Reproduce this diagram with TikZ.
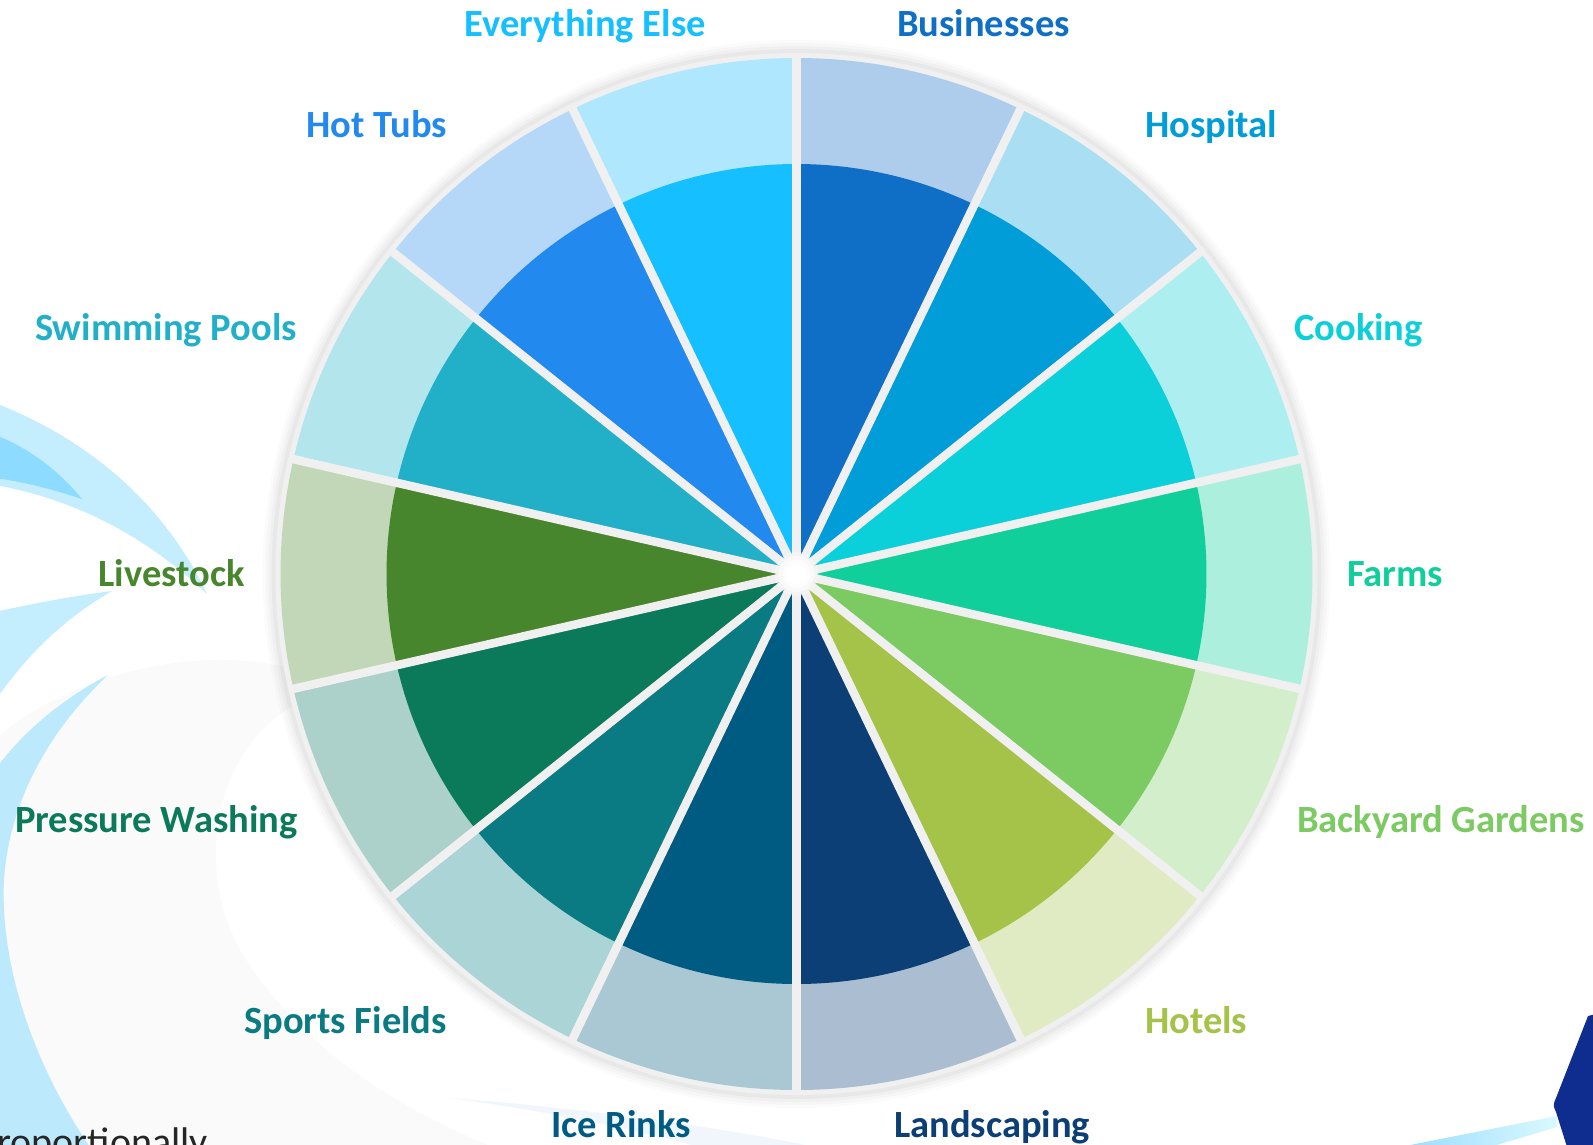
\documentclass[tikz,border=0pt]{standalone}
\usepackage{fontspec}
\setmainfont{Carlito}
\begin{document}
\definecolor{d0}{HTML}{0F6FC6}\definecolor{l0}{HTML}{AECDEC}
\definecolor{d1}{HTML}{009DD9}\definecolor{l1}{HTML}{AADEF2}
\definecolor{d2}{HTML}{0BD0D9}\definecolor{l2}{HTML}{ADEFF0}
\definecolor{d3}{HTML}{10CF9B}\definecolor{l3}{HTML}{ADEFDD}
\definecolor{d4}{HTML}{7CCA62}\definecolor{l4}{HTML}{D3EECA}
\definecolor{d5}{HTML}{A5C249}\definecolor{l5}{HTML}{E1EBC3}
\definecolor{d6}{HTML}{0B3F75}\definecolor{l6}{HTML}{ABBED1}
\definecolor{d7}{HTML}{005B82}\definecolor{l7}{HTML}{A9C8D4}
\definecolor{d8}{HTML}{0A7A83}\definecolor{l8}{HTML}{ABD4D6}
\definecolor{d9}{HTML}{0A7A5A}\definecolor{l9}{HTML}{ABD1CA}
\definecolor{d10}{HTML}{47862D}\definecolor{l10}{HTML}{C1D7B8}
\definecolor{d11}{HTML}{22B0C8}\definecolor{l11}{HTML}{B3E5EC}
\definecolor{d12}{HTML}{228AEF}\definecolor{l12}{HTML}{B5D8F9}
\definecolor{d13}{HTML}{16BFFF}\definecolor{l13}{HTML}{AFE8FE}
\definecolor{sepgrey}{HTML}{F0F0F0}
\definecolor{bggrey}{HTML}{FAFAFA}
\definecolor{swoosh}{HTML}{C4EEFE}
\definecolor{swooshdark}{HTML}{8DDCFF}
\definecolor{swooshbig}{HTML}{BCE9FC}
\definecolor{faintblue}{HTML}{F0F6FC}
\definecolor{navy}{HTML}{0F2C8F}
\begin{tikzpicture}[x=1pt,y=1pt,yscale=-1,
  lbl/.style={font=\bfseries\fontsize{38.5}{40}\selectfont, inner sep=0pt},
  sepline/.style={draw=sepgrey, line width=8.5pt}]
\useasboundingbox (0,0) rectangle (1593,1144);
\begin{scope}
\clip (0,0) rectangle (1593,1144);
\fill[white] (0,0) rectangle (1593,1144);
% faint grey swirl
\fill[bggrey] (0,735) .. controls (80,670) and (230,630) .. (345,688)
  .. controls (225,705) and (185,850) .. (240,950)
  .. controls (300,1050) and (400,1110) .. (500,1150) -- (-5,1150) -- (-5,735) -- cycle;
% swooshes
\fill[swoosh] (-5,403) .. controls (90,440) and (165,505) .. (207,594)
  .. controls (150,540) and (80,500) .. (-5,485) -- cycle;
\fill[swooshdark] (-5,435) .. controls (30,448) and (60,472) .. (82,499)
  .. controls (55,490) and (25,482) .. (-5,478) -- cycle;
\fill[swoosh] (-5,612) .. controls (40,602) and (80,595) .. (112,591)
  .. controls (70,615) and (30,650) .. (-5,701) -- cycle;
\fill[swooshbig] (108,675) .. controls (60,700) and (20,735) .. (-5,770)
  -- (-5,1150) -- (92,1150) .. controls (30,1060) and (0,960) .. (4,880)
  .. controls (10,790) and (60,720) .. (108,675) -- cycle;
\fill[faintblue] (450,1098) .. controls (580,1108) and (710,1125) .. (830,1150)
  -- (710,1150) .. controls (630,1128) and (540,1110) .. (450,1098) -- cycle;
\shade[left color=blue!35!cyan!40!white, right color=blue!15!cyan!15!white]
  (1400,1147) -- (1557,1116) -- (1557,1127) -- (1480,1150) -- cycle;
\fill[navy] (1600,1013) -- (1588,1016) -- (1556,1098) .. controls (1553,1105) .. (1556,1112)
  -- (1568,1150) -- (1600,1150) -- cycle;
\node[font=\fontsize{40}{42}\selectfont, text=black!85, inner sep=0pt, anchor=base east]
  (prop) at (208,1155) {proportionally};
\end{scope}
% wheel
\coordinate (C) at (796.5,574);
\foreach \r/\o in {534/0.015,531/0.02,528/0.025,525/0.03}
  \fill[black,opacity=\o] (C) circle[radius=\r];
\fill[sepgrey] (C) circle[radius=521];
\foreach \k in {0,...,13}{
  \pgfmathsetmacro\aa{-90+\k*360/14}
  \pgfmathsetmacro\ab{-90+(\k+1)*360/14}
  \fill[l\k] (C) -- ++(\aa:516) arc[start angle=\aa, end angle=\ab, radius=516] -- cycle;
  \fill[d\k] (C) -- ++(\aa:410) arc[start angle=\aa, end angle=\ab, radius=410] -- cycle;
}
\foreach \k in {0,...,13}{
  \pgfmathsetmacro\aa{-90+\k*360/14}
  \draw[sepline] (C) -- ++(\aa:521);
}
\foreach \r/\o in {22/0.3,18/0.5,14/0.8,10/1}
  \fill[white,opacity=\o] (C) circle[radius=\r];
% labels
\node[lbl, text=d13, anchor=base east] (everything) at (706,36.5) {Everything Else};
\node[lbl, text=d0, anchor=base west] (businesses) at (897,36.5) {Businesses};
\node[lbl, text=d12, anchor=base east] (hottubs) at (447,137.5) {Hot Tubs};
\node[lbl, text=d1, anchor=base west] (hospital) at (1145,137.5) {Hospital};
\node[lbl, text=d11, anchor=base east] (pools) at (297,340) {Swimming Pools};
\node[lbl, text=d2, anchor=base west] (cooking) at (1294,340) {Cooking};
\node[lbl, text=d10, anchor=base east] (livestock) at (245,586) {Livestock};
\node[lbl, text=d3, anchor=base west] (farms) at (1347,586) {Farms};
\node[lbl, text=d9, anchor=base east] (pressure) at (298,832) {Pressure Washing};
\node[lbl, text=d4, anchor=base west] (gardens) at (1297,832) {Backyard Gardens};
\node[lbl, text=d8, anchor=base east] (sports) at (447,1033) {Sports Fields};
\node[lbl, text=d5, anchor=base west] (hotels) at (1145,1033) {Hotels};
\node[lbl, text=d7, anchor=base east] (ice) at (691,1137) {Ice Rinks};
\node[lbl, text=d6, anchor=base west] (landscaping) at (894,1137) {Landscaping};
\end{tikzpicture}
\end{document}
